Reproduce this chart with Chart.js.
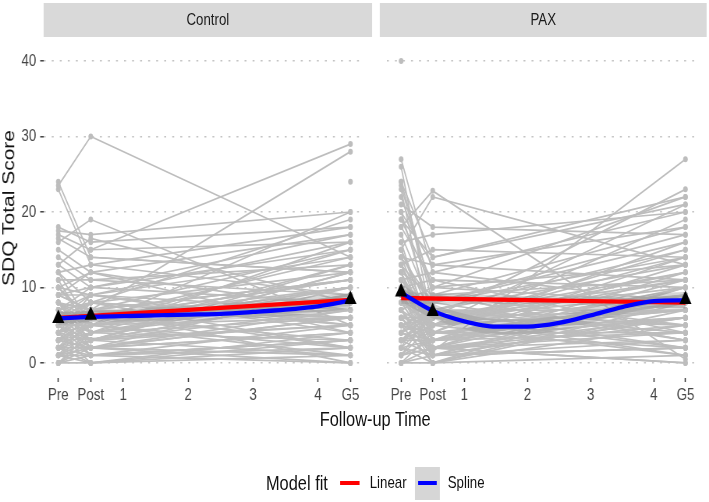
<!DOCTYPE html>
<html>
<head>
<meta charset="utf-8">
<script src="https://cdn.jsdelivr.net/npm/chart.js@4.4.0/dist/chart.umd.min.js"></script>
<style>
  html, body { margin: 0; padding: 0; background: #fff; overflow: hidden; }
  #stage {
    position: absolute; left: 0; top: 0; width: 909px; height: 502px;
    transform: scaleX(0.78); transform-origin: 0 0;
    font-family: "Liberation Sans", Arial, sans-serif;
  }
  .strip {
    position: absolute; top: 3px; height: 34px; background: #d9d9d9;
    color: #1a1a1a; font-size: 17px; line-height: 34px; text-align: center;
  }
  .panel { position: absolute; top: 37px; height: 386px; }
  .txt { position: absolute; white-space: nowrap; color: #111; }
  .key { position: absolute; height: 4px; }
</style>
</head>
<body>
<div id="stage">
  <div class="strip" style="left:56px; width:421px;">Control</div>
  <div class="strip" style="left:487px; width:419px;">PAX</div>
  <div class="panel" style="left:0; width:477px;"><canvas id="controlChart"></canvas></div>
  <div class="panel" style="left:487px; width:419px;"><canvas id="paxChart"></canvas></div>

  <div class="txt" style="left:-89px; top:196px; width:200px; height:24px; line-height:24px; font-size:21px; text-align:center; transform:rotate(-90deg);">SDQ Total Score</div>
  <div class="txt" style="left:381px; top:407px; width:200px; line-height:24px; font-size:21px; text-align:center;">Follow-up Time</div>

  <div class="txt" style="left:341px; top:471px; line-height:24px; font-size:21px;">Model fit</div>
  <div class="key" style="left:436px; top:481px; width:25px; background:#ff0000;"></div>
  <div class="txt" style="left:474px; top:473px; line-height:20px; font-size:17px;">Linear</div>
  <div style="position:absolute; left:532px; top:467px; width:32px; height:33px; background:#d6d6d6;"></div>
  <div class="key" style="left:536px; top:481px; width:24px; background:#0000ff;"></div>
  <div class="txt" style="left:574px; top:473px; line-height:20px; font-size:17px;">Spline</div>
</div>

<script>
// x positions of the three waves, and the axis ticks
const timeX = [0, 0.5, 4.5];
const tickValues = [0, 0.5, 1, 2, 3, 4, 4.5];
const tickLabels = ["Pre", "Post", "1", "2", "3", "4", "G5"];
const yTicks = [0, 10, 20, 30, 40];

// individual SDQ scores (same index = same child)
const controlPre = [23.5, 23, null, 4, null, 16, 17.5, 18, 17, 16.5, 15, 13, 13, 12, 11, 10, 9, 9, 8, 8, 7, 7, 6, 6, 6, 5, 5, 5, 4, 4, 4, 3, 3, 3, 2, 2, 2, 1, 1, 0, 0, 12, 10, 7, 3, 11, 6, 2, 5, 9, 1, 8, 4, 0, 6, 14, 7, 3, null, 5, 2, 8, 10, 1, 12, 24,
  3, 6, 9, 2, 4, 7, 1, 5, 8, 0, 3, 6, 2, 10, 4, 7, 1, 5, 9, 3, 6, 2, 8, 4, 0];
const controlPost = [30, 13, 15, 7, null, 19, 17, 16, 15, 14, 12, 16.5, 10, 8, 11, 12, 7, 9, 6, 5, 8, 3, 6, 9, 4, 5, 7, 2, 6, 3, 5, 4, 2, 6, 1, 3, 0, 2, 1, 1, 0, 13, 6, 10, 8, 4, 7, 5, 3, 12, 4, 2, 9, 3, 1, 11, 5, null, 6, 8, 2, 7, 9, 0, 5, 14,
  5, 2, 7, 4, 1, 9, 3, 8, 4, 2, 6, 3, 7, 5, 0, 4, 6, 1, 10, 2, 8, 5, 3, 7, 4];
const controlG5 = [14, 9, 29, 28, 24, 5, 20, 18, 16, 12, 17, 8, 15, 19, 13, 4, 11, 14, 10, 2, 12, 9, 3, 7, 16, 8, 0, 6, 11, 5, 1, 9, 4, 7, 3, 13, 2, 6, 0, 5, 1, 18, 8, 17, 6, 3, 15, 10, 12, 7, 8, 0, 4, 7, 2, 9, 20, 5, 11, null, 1, 6, 16, 3, 10, 12,
  8, 4, 6, 10, 3, 5, 12, 2, 9, 7, 14, 1, 11, 6, 4, 13, 7, 3, 8, 10, 5, 15, 9, 2, 6];

const paxPre = [40, 27, 26, 24, 23, 18, 15, null, 21, 20, 19, 24, 16, 14, 13, 12, 11, 10, 10, 9, 9, 8, 8, 7, 7, 6, 6, 5, 5, 4, 4, 3, 3, 2, 2, 1, 0, 0, 12, 15, 11, 17, 20, 22, 13, 8, 6, 14, 9, 5, 3, 1, 10, 18, 7, 4, 16, 2, 11, 6, 23.5, 19, 8, 13, 0, 5, 12, 3, 9,
  4, 8, 12, 2, 6, 10, 1, 5, 14, 3, 7, 11, 0, 9, 6, 2, 13, 4, 8, 1, 15, 5, 3, 10, 7];
const paxPost = [null, 12, 5, 9, 3, 22.8, 22, 1.5, 18, 6, 10, 14, 17, 13, 8, 4, 7, 11, 5, 3, 8, 6, 2, 9, 4, 5, 1, 7, 3, 2, 6, 1, 4, 0, 3, 2, 1, 0, 9, 6, 12, 7, 13, 10, 15, 5, 8, 4, 2, 6, 5, 3, 7, 11, 0, 9, 3, 1, 6, 2, 8, 14, 10, 5, 2, 4, 1, 7, 4,
  3, 5, 2, 6, 1, 4, 7, 0, 8, 3, 2, 5, 4, 1, 6, 9, 3, 7, 2, 5, 4, 0, 6, 3, 1];
const paxG5 = [null, 8, 14, 18, 6, 0.5, 13, 27, 17, 23, 22, 21, 20, 18, 17, 16, 15, 4, 12, 10, 14, 7, 11, 5, 19, 9, 3, 13, 8, 6, 10, 2, 7, 1, 9, 4, 2, 5, 3, 9, 20, 2, 11, 8, 14, 21, 16, 6, 0, 12, 15, 8, 5, 10, 7, 11, 4, 6, 1, 9, null, 22, 13, 7, 3, 2, 10, 4, 8,
  6, 9, 5, 11, 2, 7, 4, 10, 3, 8, 12, 1, 6, 9, 5, 3, 14, 7, 0, 11, 4, 8, 2, 13, 6];

// group means (triangles)
const controlMeans = [5.9, 6.3, 8.4];
const paxMeans = [9.4, 6.8, 8.4];

// fitted curves
const linearT = [0, 2.25, 4.5];
const controlLinear = [5.95, 7.15, 8.35];
const controlLinearLow = [5.2, 6.6, 7.5];
const controlLinearHigh = [6.7, 7.7, 9.2];
const paxLinear = [8.6, 8.3, 8.0];
const paxLinearLow = [7.8, 7.8, 7.2];
const paxLinearHigh = [9.4, 8.8, 8.8];

const splineT = [0, 0.5, 1, 1.5, 2, 2.5, 3, 3.5, 4, 4.5];
const controlSpline = [5.9, 6.1, 6.2, 6.3, 6.4, 6.5, 6.75, 7.05, 7.5, 8.25];
const controlSplineLow = [5.0, 5.4, 5.5, 5.6, 5.6, 5.7, 5.9, 6.2, 6.6, 7.2];
const controlSplineHigh = [6.8, 6.8, 6.9, 7.0, 7.2, 7.3, 7.6, 7.9, 8.4, 9.3];
const paxSpline = [9.3, 6.9, 5.5, 4.8, 4.8, 5.3, 6.3, 7.4, 8.2, 8.3];
const paxSplineLow = [8.1, 5.9, 4.5, 3.8, 3.8, 4.3, 5.3, 6.4, 7.2, 7.2];
const paxSplineHigh = [10.5, 7.9, 6.5, 5.8, 5.8, 6.3, 7.3, 8.4, 9.2, 9.4];

const GRAY = "#bdbdbd";
const RIBBON = "rgba(153,153,153,0.4)";
const FONT = '"Liberation Sans", Arial, sans-serif';

const pts = (xs, ys) => xs.map((x, i) => ({ x, y: ys[i] }));

function subjectLines(pre, post, g5) {
  return pre.map((_, i) => ({
    data: pts(timeX, [pre[i], post[i], g5[i]]),
    borderColor: GRAY,
    backgroundColor: GRAY,
    borderWidth: 1.7,
    pointRadius: 3,
    pointBorderWidth: 0,
    spanGaps: true,
    order: 5,
  }));
}

function ribbon(t, low, high, smooth) {
  const base = {
    borderColor: "rgba(0,0,0,0)",
    borderWidth: 0,
    pointRadius: 0,
    order: 4,
    cubicInterpolationMode: smooth ? "monotone" : "default",
  };
  return [
    { ...base, data: pts(t, high), fill: "+1", backgroundColor: RIBBON },
    { ...base, data: pts(t, low), fill: false },
  ];
}

function makePanel(id, pre, post, g5, means, lin, linLo, linHi, spl, splLo, splHi, showY) {
  const datasets = [
    ...subjectLines(pre, post, g5),
    ...ribbon(linearT, linLo, linHi, false),
    ...ribbon(splineT, splLo, splHi, true),
    {
      data: pts(linearT, lin),
      borderColor: "#ff0000",
      borderWidth: 4.3,
      pointRadius: 0,
      fill: false,
      order: 3,
    },
    {
      data: pts(splineT, spl),
      borderColor: "#0000ff",
      borderWidth: 4.3,
      pointRadius: 0,
      fill: false,
      cubicInterpolationMode: "monotone",
      order: 2,
    },
    {
      data: pts(timeX, means),
      showLine: false,
      pointStyle: "triangle",
      pointRadius: 9,
      pointBorderWidth: 0,
      backgroundColor: "#000",
      borderColor: "#000",
      order: 1,
    },
  ];

  return new Chart(document.getElementById(id), {
    type: "line",
    data: { datasets },
    options: {
      responsive: true,
      maintainAspectRatio: false,
      animation: false,
      layout: { padding: 0 },
      plugins: { legend: { display: false }, tooltip: { enabled: false } },
      scales: {
        x: {
          type: "linear",
          min: -0.225,
          max: 4.725,
          afterBuildTicks: (s) => {
            s.ticks = tickValues.map((v) => ({ value: v }));
          },
          afterFit: (s) => {
            s.height = 45;
            s.paddingLeft = 0;
            s.paddingRight = 0;
          },
          grid: {
            drawOnChartArea: false,
            drawTicks: true,
            tickLength: 4,
            tickWidth: 1.5,
            tickColor: "#333333",
          },
          border: { display: false },
          ticks: {
            autoSkip: false,
            maxRotation: 0,
            padding: 3,
            color: "#444444",
            font: { family: FONT, size: 17 },
            callback: (v) => tickLabels[tickValues.indexOf(v)],
          },
        },
        y: {
          min: -2,
          max: 42,
          afterBuildTicks: (s) => {
            s.ticks = yTicks.map((v) => ({ value: v }));
          },
          afterFit: (s) => {
            s.width = showY ? 56 : 0;
            s.paddingTop = 0;
            s.paddingBottom = 0;
          },
          grid: {
            color: "#c4c4c4",
            lineWidth: 1.6,
            drawTicks: showY,
            tickLength: 4.5,
            tickWidth: 1.4,
            tickColor: "#333333",
            tickBorderDash: [],
          },
          border: { display: false, dash: [2.5, 7.8] },
          ticks: {
            display: showY,
            padding: 5,
            color: "#444444",
            font: { family: FONT, size: 17 },
          },
        },
      },
    },
  });
}

makePanel("controlChart", controlPre, controlPost, controlG5, controlMeans,
  controlLinear, controlLinearLow, controlLinearHigh,
  controlSpline, controlSplineLow, controlSplineHigh, true);
makePanel("paxChart", paxPre, paxPost, paxG5, paxMeans,
  paxLinear, paxLinearLow, paxLinearHigh,
  paxSpline, paxSplineLow, paxSplineHigh, false);
</script>
</body>
</html>
